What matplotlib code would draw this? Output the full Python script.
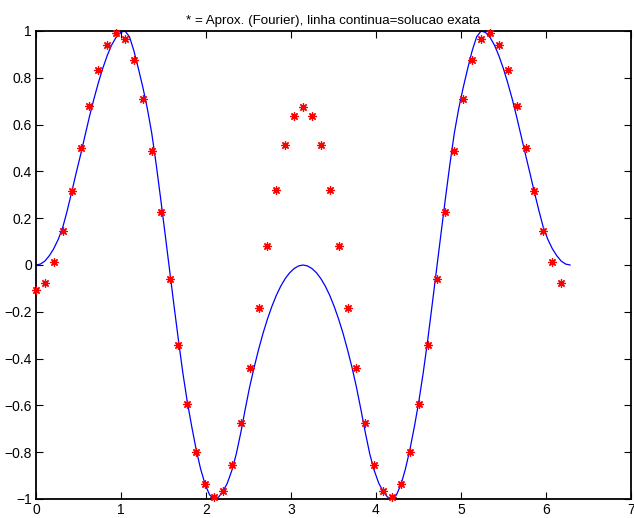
import matplotlib
matplotlib.use('Agg')
import matplotlib.pyplot as plt

plt.rcParams['font.family'] = ['Liberation Sans', 'DejaVu Sans']

# pontos da aproximacao (Fourier), x = k*pi/30
x_aprox = [0.000, 0.105, 0.209, 0.314, 0.419, 0.524, 0.628, 0.733, 0.838, 0.942,
           1.047, 1.152, 1.257, 1.361, 1.466, 1.571, 1.676, 1.780, 1.885, 1.990,
           2.094, 2.199, 2.304, 2.409, 2.513, 2.618, 2.723, 2.827, 2.932, 3.037,
           3.142, 3.246, 3.351, 3.456, 3.561, 3.665, 3.770, 3.875, 3.979, 4.084,
           4.189, 4.294, 4.398, 4.503, 4.608, 4.712, 4.817, 4.922, 5.027, 5.131,
           5.236, 5.341, 5.445, 5.550, 5.655, 5.760, 5.864, 5.969, 6.074, 6.178]
y_aprox = [-0.106, -0.075, 0.011, 0.147, 0.315, 0.500, 0.679, 0.833, 0.939, 0.991,
           0.966, 0.874, 0.710, 0.489, 0.226, -0.061, -0.344, -0.595, -0.801, -0.937,
           -0.992, -0.964, -0.856, -0.676, -0.442, -0.182, 0.082, 0.321, 0.511, 0.635,
           0.677, 0.635, 0.511, 0.321, 0.082, -0.182, -0.442, -0.676, -0.856, -0.964,
           -0.992, -0.937, -0.801, -0.595, -0.344, -0.061, 0.226, 0.489, 0.710, 0.874,
           0.966, 0.991, 0.939, 0.833, 0.679, 0.500, 0.315, 0.147, 0.011, -0.076]

# solucao exata (linha continua)
x_exata = [0.000, 0.052, 0.105, 0.157, 0.209, 0.262, 0.314, 0.367, 0.419, 0.471,
           0.524, 0.576, 0.628, 0.681, 0.733, 0.785, 0.838, 0.890, 0.942, 0.995,
           1.047, 1.100, 1.152, 1.204, 1.257, 1.309, 1.361, 1.414, 1.466, 1.518,
           1.571, 1.623, 1.676, 1.728, 1.780, 1.833, 1.885, 1.937, 1.990, 2.042,
           2.094, 2.147, 2.199, 2.251, 2.304, 2.356, 2.409, 2.461, 2.513, 2.566,
           2.618, 2.670, 2.723, 2.775, 2.827, 2.880, 2.932, 2.985, 3.037, 3.089,
           3.142, 3.194, 3.246, 3.299, 3.351, 3.403, 3.456, 3.508, 3.560, 3.613,
           3.665, 3.718, 3.770, 3.822, 3.875, 3.927, 3.979, 4.032, 4.084, 4.136,
           4.189, 4.241, 4.294, 4.346, 4.398, 4.451, 4.503, 4.555, 4.608, 4.660,
           4.712, 4.765, 4.817, 4.869, 4.922, 4.974, 5.027, 5.079, 5.131, 5.184,
           5.236, 5.288, 5.341, 5.393, 5.445, 5.498, 5.550, 5.603, 5.655, 5.707,
           5.760, 5.812, 5.864, 5.917, 5.969, 6.021, 6.074, 6.126, 6.178, 6.231,
           6.283]
y_exata = [0.000, 0.004, 0.017, 0.040, 0.070, 0.110, 0.160, 0.232, 0.310, 0.391,
           0.470, 0.552, 0.633, 0.709, 0.778, 0.840, 0.895, 0.940, 0.973, 0.994,
           1.000, 0.975, 0.915, 0.840, 0.760, 0.670, 0.565, 0.430, 0.285, 0.135,
           -0.020, -0.172, -0.322, -0.462, -0.585, -0.692, -0.790, -0.872, -0.938, -0.982,
           -1.000, -0.992, -0.968, -0.932, -0.878, -0.808, -0.717, -0.617, -0.522, -0.438,
           -0.362, -0.293, -0.231, -0.177, -0.130, -0.090, -0.058, -0.033, -0.015, -0.004,
           0.000, -0.004, -0.015, -0.033, -0.058, -0.090, -0.130, -0.177, -0.231, -0.293,
           -0.362, -0.438, -0.522, -0.617, -0.717, -0.808, -0.878, -0.932, -0.968, -0.992,
           -1.000, -0.982, -0.938, -0.872, -0.790, -0.692, -0.585, -0.462, -0.322, -0.172,
           -0.020, 0.135, 0.285, 0.430, 0.565, 0.670, 0.760, 0.840, 0.915, 0.975,
           1.000, 0.994, 0.973, 0.940, 0.895, 0.840, 0.778, 0.709, 0.633, 0.552,
           0.470, 0.391, 0.310, 0.232, 0.160, 0.110, 0.070, 0.040, 0.017, 0.004,
           0.000]

xticks = [0, 1, 2, 3, 4, 5, 6, 7]
yticks = [-1, -0.8, -0.6, -0.4, -0.2, 0, 0.2, 0.4, 0.6, 0.8, 1]
ytick_labels = ['\u22121', '\u22120.8', '\u22120.6', '\u22120.4', '\u22120.2', '0',
                '0.2', '0.4', '0.6', '0.8', '1']
titulo = '* = Aprox. (Fourier), linha continua=solucao exata'

fig = plt.figure(figsize=(6.34, 5.18), dpi=100)
ax = fig.add_axes([36 / 634, 19 / 518, 595 / 634, 468 / 518])

ax.plot(x_exata, y_exata, color='blue', linewidth=0.9)
ax.plot(x_aprox, y_aprox, linestyle='none', marker=(8, 2, 0), markersize=6,
        markeredgewidth=0.9, color='red', clip_on=False, zorder=3)

ax.set_xlim(0, 7)
ax.set_ylim(-1, 1)
ax.set_xticks(xticks)
ax.set_xticklabels([str(t) for t in xticks])
ax.set_yticks(yticks)
ax.set_yticklabels(ytick_labels)
ax.tick_params(direction='in', top=True, right=True, length=5, width=0.8,
               labelsize=10, pad=3)
for s in ax.spines.values():
    s.set_linewidth(1.3)
ax.set_title(titulo, fontsize=9.6, pad=5)

fig.savefig('out.png', dpi=100)
